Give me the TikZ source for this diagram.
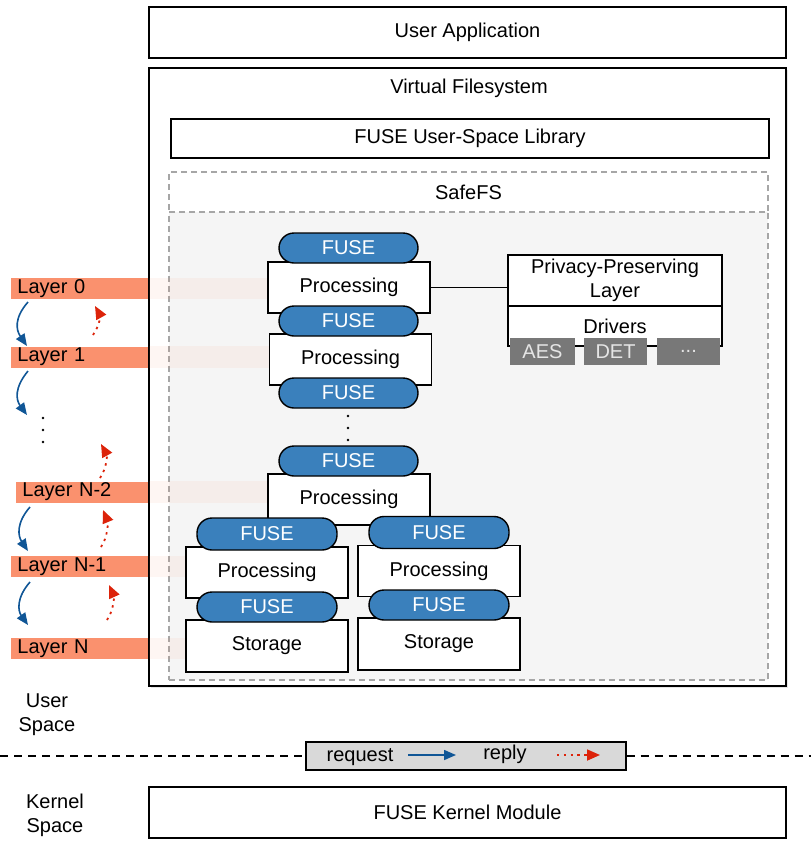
\documentclass[tikz,border=0pt]{standalone}
\usepackage{fontspec}
\setmainfont{Liberation Sans}
\usetikzlibrary{shadows,arrows.meta}
\definecolor{fuseblue}{RGB}{58,128,188}
\definecolor{layerorange}{RGB}{250,145,110}
\definecolor{reqblue}{RGB}{16,86,150}
\definecolor{replyred}{RGB}{220,35,10}
\definecolor{drvgray}{RGB}{120,120,120}
\definecolor{safegray}{RGB}{245,245,245}
\definecolor{legendgray}{RGB}{217,217,217}
\tikzset{
  bigbox/.style={draw, fill=white, line width=0.7pt, minimum width=318.5pt, minimum height=25.5pt, inner sep=0pt},
  procbox/.style={draw, fill=white, line width=0.7pt, minimum width=81pt, minimum height=25.5pt, inner sep=0pt},
  fuse/.style={draw, fill=fuseblue, text=white, rounded corners=7.5pt, line width=0.7pt, minimum width=69.5pt, minimum height=15pt, inner sep=0pt},
  safebox/.style={draw=gray!70, densely dashed, line width=0.6pt, minimum width=299.5pt, inner sep=0pt},
  drv/.style={fill=drvgray, text=white!90!black, minimum height=13.5pt, inner sep=0pt},
  layer/.style={fill=layerorange, anchor=west, minimum height=10.5pt, inner xsep=3pt, inner ysep=0pt, text width=62.5pt, align=left},
  layerfade/.style={fill=layerorange, opacity=0.08},
  req/.style={-{Triangle[length=6pt,width=5pt]}, reqblue, line width=0.8pt},
  rep/.style={-{Triangle[length=6.5pt,width=5.5pt]}, replyred, dash pattern=on 1.2pt off 2.2pt, line width=0.9pt},
}
\begin{document}
\begin{tikzpicture}[x=0.5pt, y=-0.5pt, font=\fontsize{10}{12}\selectfont]
\useasboundingbox (0,0) rectangle (811,841);

\node[bigbox] (app) at (467.5,32.5) {User Application};
\node[bigbox, minimum height=309pt, drop shadow={opacity=0.2, shadow xshift=1pt, shadow yshift=-1pt}] (vfs) at (467.5,377) {};
\node (vfstitle) at (469,88) {Virtual Filesystem};
\node[bigbox, minimum width=299pt, minimum height=19.5pt] (lib) at (470,138.5) {FUSE User-Space Library};

% SafeFS
\node[safebox, fill=white, minimum height=20pt] (safetitle) at (468.5,192) {SafeFS};
\node[safebox, fill=safegray, minimum height=234pt] (safe) at (468.5,446) {};

% layers
\node[layer] (l0) at (11,288.5) {Layer 0};
\node[layer] (l1) at (11,357) {Layer 1};
\node[layer, text width=60pt] (ln2) at (16,492) {Layer N-2};
\node[layer] (ln1) at (11,566.5) {Layer N-1};
\node[layer] (ln) at (11,648.5) {Layer N};
\foreach \l in {l0,l1,ln2,ln1,ln}
  \fill[layerfade] (\l.north east) rectangle ([xshift=61pt]\l.south east);
\foreach \y in {418,430,442}
  \fill (43,\y) circle (0.7pt);

\draw[req] (28,302) .. controls (14,318) and (16,330) .. (27,346);
\draw[req] (28,371) .. controls (14,388) and (16,400) .. (27,415);
\draw[req] (30,507) .. controls (16,523) and (18,536) .. (28,551);
\draw[req] (30,582) .. controls (16,598) and (18,611) .. (28,625);
\draw[rep] (93,335) .. controls (100,325) and (100,315) .. (95,306);
\draw[rep] (100,478) .. controls (107,468) and (107,455) .. (101,444);
\draw[rep] (101,547) .. controls (108,537) and (108,522) .. (103,510);
\draw[rep] (107,620) .. controls (114,610) and (114,596) .. (109,585);

% processing stack
\node[procbox] (p1) at (349,287.5) {Processing};
\node[procbox] (p2) at (350.5,359.5) {Processing};
\node[procbox] (p3) at (349,499.5) {Processing};
\node[procbox] (pl) at (267,572.5) {Processing};
\node[procbox, minimum height=26pt] (sl) at (267,646) {Storage};
\node[procbox] (pr) at (439,571) {Processing};
\node[procbox, minimum height=26pt] (sr) at (439,644) {Storage};
\node[fuse] (f1) at (348.5,248) {FUSE};
\node[fuse] (f2) at (348.5,321) {FUSE};
\node[fuse] (f3) at (348.5,393) {FUSE};
\node[fuse] (f4) at (348.5,461) {FUSE};
\node[fuse, minimum width=70pt, minimum height=16pt] (fl1) at (267,534) {FUSE};
\node[fuse, minimum width=70pt] (fl2) at (267,607) {FUSE};
\node[fuse, minimum width=70pt, minimum height=16pt] (fr1) at (439,532.5) {FUSE};
\node[fuse, minimum width=70pt] (fr2) at (439,605) {FUSE};
\foreach \y in {416,428,440}
  \fill (348,\y) circle (0.7pt);

% privacy layer
\node[procbox, minimum width=107pt, align=center] (ppl) at (615,280.5) {Privacy-Preserving\\Layer};
\node[procbox, minimum width=107pt, minimum height=20pt] (drivers) at (615,326) {Drivers};
\node[drv, minimum width=32.5pt] (aes) at (542.5,351.5) {AES};
\node[drv, minimum width=31.5pt] (det) at (615.5,351.5) {DET};
\node[drv, minimum width=31.5pt] (more) at (688.5,351.5) {...};
\draw[line width=0.7pt] (p1.east) -- (p1.east -| ppl.west);

% user / kernel
\node[align=center] (user) at (47,715) {User\\Space};
\node[align=center] (kernel) at (55,815) {Kernel\\Space};
\node[draw, fill=legendgray, line width=0.7pt, minimum width=160pt, minimum height=14pt, inner sep=0pt] (legend) at (466,756) {};
\draw[dash pattern=on 4pt off 3pt, line width=0.7pt] (0,756) -- (legend.west);
\draw[dash pattern=on 4pt off 3pt, line width=0.7pt] (legend.east) -- (811,756);
\node (reqtext) at (360,757) {request};
\node (reptext) at (505,754) {reply};
\coordinate (reqa) at (408,755);
\coordinate (reqb) at (456,755);
\coordinate (repa) at (557,755);
\coordinate (repb) at (600,755);
\draw[req] (reqa) -- (reqb);
\draw[rep] (repa) -- (repb);
\node[bigbox] (kmod) at (467.5,812.5) {FUSE Kernel Module};
\end{tikzpicture}
\end{document}
